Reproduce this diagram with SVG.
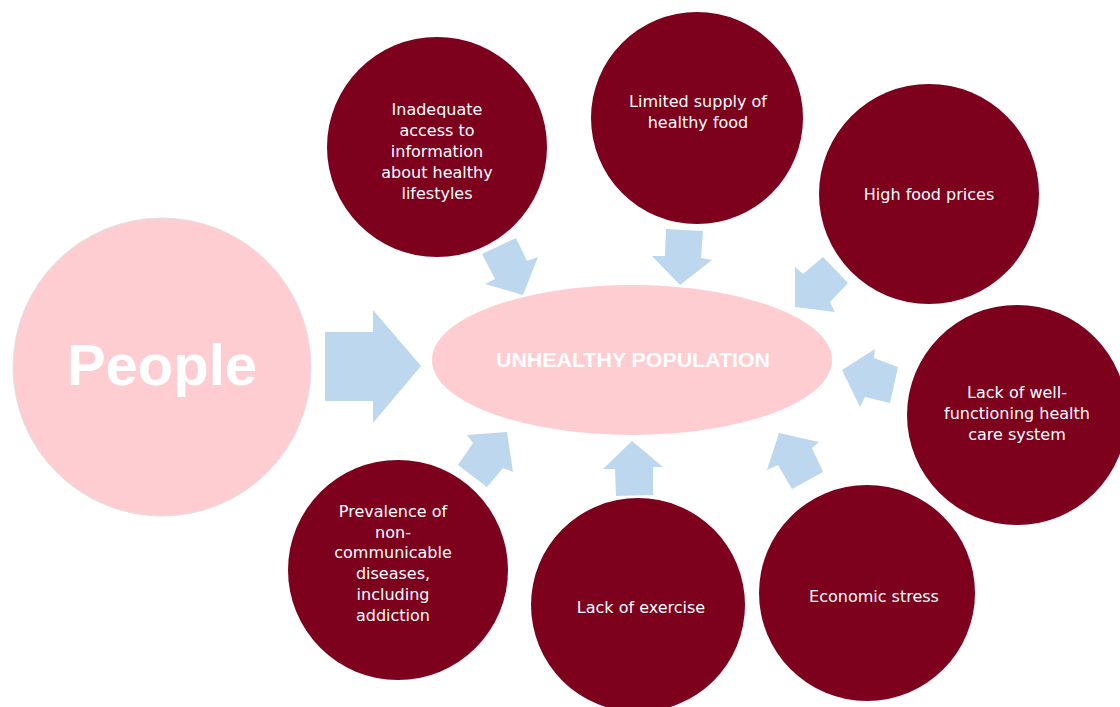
<svg xmlns="http://www.w3.org/2000/svg" width="1120" height="707" viewBox="0 0 1120 707">
<style>
.dark{fill:#7D001C}
.pink{fill:#FECDD1}
.arr{fill:#BDD7EE}
.lbl{font-family:"DejaVu Sans","Liberation Sans",sans-serif;font-size:16px;fill:#FFFFFF;text-anchor:middle}
</style>
<rect width="1120" height="707" fill="#FFFFFF"/>
<g id="connectors">
<polygon class="arr" points="325,332 373,332 373,310 421,366 373,423 373,401 325,401"/>
<polygon class="arr" points="482,254 516,238 527,261 538,257 523,295 485,284 495,279"/>
<polygon class="arr" points="666,229 703,231 701,258 712,260 680,285 652,256 665,256"/>
<polygon class="arr" points="823,257 848,283 830,302 835,312 795,307 795,267 803,274"/>
<polygon class="arr" points="875,349 874,358 898,367 890,403 865,397 860,407 842,370"/>
<polygon class="arr" points="467,435 473,443 458,465 487,487 503,468 513,472 507,432"/>
<polygon class="arr" points="632,441 663,467 653,467 653,495 616,496 615,469 603,469"/>
<polygon class="arr" points="779,433 819,442 812,448 823,472 792,489 778,465 767,470"/>
</g>
<g id="people">
<circle class="pink" cx="162" cy="367" r="149" stroke="#E4E0E0" stroke-width="1"/>
<text x="162" y="385" font-family="Liberation Sans, Arial, sans-serif" font-size="58" font-weight="bold" fill="#FFFFFF" text-anchor="middle">People</text>
</g>
<g id="unhealthy">
<ellipse class="pink" cx="632" cy="360" rx="200" ry="75"/>
<text x="633" y="367" font-family="Liberation Sans, Arial, sans-serif" font-size="20" font-weight="bold" fill="#FFFFFF" text-anchor="middle" textLength="274" lengthAdjust="spacingAndGlyphs">UNHEALTHY POPULATION</text>
</g>
<g id="n-info">
<circle class="dark" cx="437" cy="147" r="110"/>
<text class="lbl"><tspan x="437" y="115">Inadequate</tspan><tspan x="437" y="136">access to</tspan><tspan x="437" y="157">information</tspan><tspan x="437" y="178">about healthy</tspan><tspan x="437" y="199">lifestyles</tspan></text>
</g>
<g id="n-supply">
<circle class="dark" cx="697" cy="118" r="106"/>
<text class="lbl"><tspan x="698" y="107">Limited supply of</tspan><tspan x="698" y="128">healthy food</tspan></text>
</g>
<g id="n-prices">
<circle class="dark" cx="929" cy="194" r="110"/>
<text class="lbl" x="929" y="200">High food prices</text>
</g>
<g id="n-healthcare">
<circle class="dark" cx="1017" cy="415" r="110"/>
<text class="lbl"><tspan x="1017" y="398">Lack of well-</tspan><tspan x="1017" y="419">functioning health</tspan><tspan x="1017" y="440">care system</tspan></text>
</g>
<g id="n-ncd">
<circle class="dark" cx="398" cy="570" r="110"/>
<text class="lbl"><tspan x="393" y="517">Prevalence of</tspan><tspan x="393" y="538">non-</tspan><tspan x="393" y="558">communicable</tspan><tspan x="393" y="579">diseases,</tspan><tspan x="393" y="600">including</tspan><tspan x="393" y="621">addiction</tspan></text>
</g>
<g id="n-exercise">
<circle class="dark" cx="638" cy="605" r="107"/>
<text class="lbl" x="641" y="613">Lack of exercise</text>
</g>
<g id="n-economic">
<circle class="dark" cx="867" cy="593" r="108"/>
<text class="lbl" x="874" y="602">Economic stress</text>
</g>
</svg>
